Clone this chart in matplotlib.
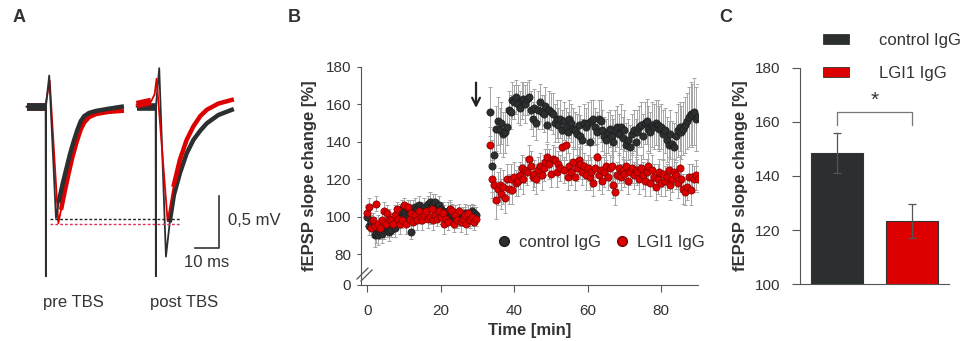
import numpy as np
import matplotlib
matplotlib.use('Agg')
import matplotlib.pyplot as plt
from matplotlib.lines import Line2D
from matplotlib.patches import Patch

plt.rcParams['font.family'] = ['Liberation Sans', 'DejaVu Sans']
TXT = '#333333'
DARK = '#2b2f30'
RED = '#dd0000'

# ---- panel A: example traces (ms, mV relative to baseline) ----
pre_t_k = [0, 7.9, 8.0, 8.1, 9.4, 12.2, 13.5, 15.0, 16.5, 18.0, 19.5, 21.0, 22.5, 24.0, 26.0, 29.0, 34.0, 39.6]
pre_v_k = [0.0, 0.0, -1.63, 0.02, 0.30, -1.07, -0.90, -0.74, -0.60, -0.46, -0.34, -0.23, -0.14, -0.09,
           -0.06, -0.04, -0.02, 0.0]
pre_t_r = [0, 7.9, 8.1, 9.6, 13.2, 14.5, 16.0, 17.5, 19.0, 20.8, 22.5, 24.0, 26.0, 29.0, 34.0, 39.6]
pre_v_r = [0.0, 0.0, 0.05, 0.25, -1.12, -0.97, -0.80, -0.64, -0.49, -0.34, -0.22, -0.15, -0.10, -0.07,
           -0.05, -0.04]
post_t_k = [0, 7.9, 8.0, 8.1, 9.4, 12.2, 13.9, 15.5, 18.0, 20.8, 23.6, 26.5, 29.2, 34.0, 39.6]
post_v_k = [0.0, 0.0, -1.63, 0.02, 0.37, -1.44, -1.09, -0.85, -0.64, -0.45, -0.32, -0.23, -0.16, -0.08, -0.03]
post_t_r = [0, 6.0, 7.5, 8.3, 12.9, 15.5, 18.0, 20.8, 23.6, 26.5, 29.2, 34.0, 39.6]
post_v_r = [0.02, 0.05, 0.12, 0.27, -1.10, -0.75, -0.51, -0.32, -0.19, -0.09, -0.03, 0.03, 0.065]
POST_SHIFT = 45.8  # ms, horizontal offset of the post TBS trace
trough_black = -1.08
trough_red = -1.13

# ---- panel B: time course ----
t_base = np.arange(0, 30, 0.5)
t_post = np.arange(33.5, 90.25, 0.5)

ctrl_base = [100, 95, 97, 94, 90, 91, 90, 92, 91, 93,
             95, 94, 92, 93, 96, 94, 99, 100, 103, 104,
             102, 101, 100, 104, 92, 104, 105, 104, 106, 103,
             104, 105, 103, 107, 108, 106, 107, 108, 105, 106,
             104, 103, 102, 100, 103, 104, 101, 99, 102, 98,
             100, 99, 101, 102, 100, 99, 101, 103, 102, 101]
lgi_base = [102, 105, 94, 98, 95, 107, 96, 94, 98, 103,
            96, 102, 99, 98, 96, 101, 104, 99, 96, 98,
            106, 96, 105, 99, 102, 97, 101, 98, 103, 100,
            98, 101, 103, 99, 100, 104, 98, 101, 99, 103,
            100, 102, 96, 99, 97, 104, 103, 96, 101, 98,
            103, 97, 99, 101, 96, 102, 98, 100, 97, 99]
ctrl_post = [156, 127, 133, 147, 151, 146, 150, 144, 145, 148,
             157, 156, 162, 161, 164, 160, 158, 162, 163, 160,
             163, 164, 157, 152, 158, 150, 157, 161, 156, 155,
             159, 149, 157, 156, 155, 150, 152, 149, 152, 146,
             151, 148, 145, 152, 150, 147, 146, 144, 149, 143,
             141, 150, 148, 150, 140, 151, 152, 148, 145, 152,
             151, 146, 143, 141, 145, 147, 143, 140, 146, 148,
             144, 148, 142, 146, 138, 141, 137, 144, 146, 140,
             145, 148, 149, 143, 150, 151, 147, 145, 149, 148,
             150, 149, 147, 148, 144, 146, 141, 138, 144, 139,
             137, 143, 146, 148, 145, 147, 149, 151, 153, 155,
             154, 156, 152, 153]
lgi_post = [138, 120, 117, 109, 115, 117, 112, 116, 110, 120,
            115, 120, 114, 121, 118, 119, 122, 126, 120, 125,
            124, 131, 127, 121, 123, 120, 125, 127, 122, 126,
            129, 132, 128, 123, 131, 130, 124, 128, 126, 137,
            125, 138, 121, 127, 124, 129, 121, 126, 130, 128,
            124, 127, 122, 126, 121, 124, 118, 126, 132, 122,
            125, 119, 124, 127, 121, 126, 127, 117, 113, 122,
            126, 121, 125, 123, 127, 119, 124, 126, 122, 125,
            124, 120, 126, 122, 119, 124, 127, 118, 125, 121,
            116, 120, 124, 118, 123, 119, 121, 125, 117, 120,
            124, 122, 118, 126, 120, 115, 113, 116, 121, 114,
            121, 120, 122, 120]
ctrl_base_err = [5, 5, 4, 5, 6, 5, 5, 4, 5, 5, 4, 5, 5, 4, 5, 5, 4, 5, 4, 5,
                 5, 4, 5, 5, 4, 5, 5, 4, 5, 4, 4, 5, 4, 4, 5, 4, 5, 4, 4, 5,
                 4, 5, 4, 4, 5, 4, 4, 5, 4, 4, 5, 4, 4, 5, 4, 4, 5, 4, 4, 4]
lgi_base_err = [4, 5, 4, 4, 5, 4, 5, 4, 4, 5, 4, 4, 5, 4, 4, 5, 4, 4, 5, 4,
                4, 5, 4, 4, 5, 4, 4, 5, 4, 4, 5, 4, 4, 5, 4, 4, 5, 4, 4, 5,
                4, 4, 5, 4, 4, 5, 4, 4, 5, 4, 4, 5, 4, 4, 5, 4, 4, 5, 4, 4]
ctrl_post_err = [13, 14, 13, 12, 13, 12, 11, 12, 11, 10,
                 10, 9, 10, 9, 9, 10, 9, 10, 9, 10,
                 9, 9, 10, 9, 10, 9, 10, 10, 9, 10,
                 10, 9, 10, 10, 11, 10, 10, 9, 10, 11,
                 10, 10, 11, 10, 10, 11, 10, 11, 10, 11,
                 11, 10, 10, 11, 10, 11, 10, 10, 11, 10,
                 11, 11, 10, 11, 11, 10, 11, 12, 11, 11,
                 11, 12, 11, 11, 12, 11, 12, 11, 11, 12,
                 12, 11, 12, 12, 11, 12, 12, 11, 12, 12,
                 12, 13, 12, 12, 13, 12, 12, 13, 13, 12,
                 13, 13, 14, 13, 14, 14, 15, 15, 16, 17,
                 17, 18, 17, 18]
lgi_post_err = [10, 10, 9, 10, 9, 9, 8, 9, 8, 8,
                8, 8, 7, 8, 7, 8, 7, 7, 8, 7,
                7, 7, 8, 7, 7, 8, 7, 7, 8, 7,
                7, 7, 8, 7, 7, 7, 8, 7, 7, 7,
                7, 8, 7, 7, 7, 8, 7, 7, 7, 8,
                7, 7, 8, 7, 7, 8, 7, 7, 7, 8,
                7, 7, 8, 7, 7, 7, 8, 7, 7, 7,
                8, 7, 7, 7, 8, 7, 7, 8, 7, 7,
                7, 8, 7, 7, 8, 7, 7, 7, 8, 7,
                7, 8, 7, 7, 7, 8, 7, 7, 8, 7,
                7, 7, 8, 7, 7, 8, 7, 7, 7, 8,
                7, 7, 8, 7]
TBS_TIME = 29.6

# ---- panel C: summary bars ----
groups = ['control IgG', 'LGI1 IgG']
bar_mean = [148.6, 123.4]
bar_sem = [7.4, 6.2]
bar_colors = [DARK, RED]

W, H = 965, 341


def box(l, t, r, b):
    return [l / W, 1 - b / H, (r - l) / W, (b - t) / H]


def trace(ax, t, v, color, n_base, n_rec):
    # thin line for the whole sweep, thick band where the recording is noisy
    ax.plot(t, v, color=color, lw=1.3, solid_joinstyle='round')
    ax.plot(t[:n_base], v[:n_base], color=color, lw=5.5, solid_capstyle='butt')
    ax.plot(t[n_rec:], v[n_rec:], color=color, lw=3.2, solid_joinstyle='round')


fig = plt.figure(figsize=(W / 100, H / 100), dpi=100)

# ===== A =====
axA = fig.add_axes(box(0, 40, 250, 320))
axA.set_xlim(-11.1, 93.0)
axA.set_ylim(-2.05, 0.641)
axA.axis('off')
trace(axA, pre_t_r, pre_v_r, RED, 2, 5)
trace(axA, pre_t_k, pre_v_k, DARK, 2, 6)
trace(axA, list(np.array(post_t_k) + POST_SHIFT), post_v_k, DARK, 2, 6)
trace(axA, list(np.array(post_t_r) + POST_SHIFT), post_v_r, RED, 2, 5)
axA.plot([9.7, 63.9], [trough_black, trough_black], ls=(0, (2, 1.5)), color='#222222', lw=1)
axA.plot([9.7, 63.9], [trough_red, trough_red], ls=(0, (2, 1.5)), color='#e0305a', lw=1)
axA.plot([70.1, 80.1, 80.1], [-1.354, -1.354, -0.859], color='#333333', lw=1.2)
axA.text(84.0, -1.09, '0,5 mV', fontsize=12, color=TXT, va='center', ha='left')
axA.text(74.8, -1.50, '10 ms', fontsize=12, color=TXT, va='center', ha='center')
fig.text(73 / W, 1 - 303 / H, 'pre TBS', fontsize=12, color=TXT, ha='center', va='center')
fig.text(184 / W, 1 - 303 / H, 'post TBS', fontsize=12, color=TXT, ha='center', va='center')

# ===== B =====
axB = fig.add_axes(box(361, 66.7, 698, 285))
for tt, vv, ee in [(t_base, ctrl_base, ctrl_base_err), (t_post, ctrl_post, ctrl_post_err),
                   (t_base, lgi_base, lgi_base_err), (t_post, lgi_post, lgi_post_err)]:
    axB.errorbar(tt, vv, yerr=ee, fmt='none', ecolor='#a5a5a5',
                 elinewidth=0.7, capsize=1.6, capthick=0.7, zorder=1)
for tt, vv in [(t_base, ctrl_base), (t_post, ctrl_post)]:
    axB.plot(tt, vv, 'o', ms=5.2, mfc=DARK, mec='#1a1a1a', mew=0.5, zorder=3)
for tt, vv in [(t_base, lgi_base), (t_post, lgi_post)]:
    axB.plot(tt, vv, 'o', ms=5.2, mfc=RED, mec='#7a0000', mew=0.5, zorder=4)
axB.set_xlim(-1.7, 90)
axB.set_ylim(63.6, 180)
axB.set_xticks([0, 20, 40, 60, 80])
axB.set_yticks([63.6, 80, 100, 120, 140, 160, 180])
axB.set_yticklabels(['0', '80', '100', '120', '140', '160', '180'])
for s in ['top', 'right']:
    axB.spines[s].set_visible(False)
for s in ['left', 'bottom']:
    axB.spines[s].set_color('#555555')
axB.tick_params(labelsize=11, colors='#555555', labelcolor=TXT)
axB.tick_params(axis='x', length=5, pad=9)
axB.tick_params(axis='y', length=3, pad=4)
axB.set_xlabel('Time [min]', fontsize=12, fontweight='bold', color=TXT, labelpad=3.5)
axB.set_ylabel('fEPSP slope change [%]', fontsize=12, fontweight='bold', color=TXT, labelpad=6)
axB.annotate('', xy=(TBS_TIME, 156.5), xytext=(TBS_TIME, 173),
             arrowprops=dict(arrowstyle='->', lw=1.6, color='#222222', mutation_scale=14))
for dx in [0, 4]:
    fig.add_artist(Line2D([(357 + dx) / W, (368 + dx) / W], [1 - (279 + dx * 0.5) / H, 1 - (268 + dx * 0.5) / H],
                          color='#555555', lw=0.9))
legB = [Line2D([], [], marker='o', ls='', ms=7, mfc=DARK, mec='#1a1a1a', label='control IgG'),
        Line2D([], [], marker='o', ls='', ms=7, mfc=RED, mec='#7a0000', label='LGI1 IgG')]
axB.legend(handles=legB, loc='center left', bbox_to_anchor=(0.399, 0.194), ncol=2, frameon=False,
           fontsize=12, handlelength=1.0, handletextpad=0.4, columnspacing=0.76,
           borderpad=0, borderaxespad=0, labelcolor=TXT)

# ===== C =====
axC = fig.add_axes(box(800, 67.7, 949, 284.3))
axC.bar([0, 1], bar_mean, width=0.7, color=bar_colors, edgecolor='#333333', lw=0.8, zorder=2)
axC.errorbar([0, 1], bar_mean, yerr=bar_sem, fmt='none', ecolor='#555555',
             elinewidth=0.9, capsize=3, capthick=0.9, zorder=3)
axC.plot([0, 0, 1, 1], [158.8, 163.7, 163.7, 158.8], color='#777777', lw=0.9)
axC.text(0.5, 168.1, '*', fontsize=15, color=TXT, ha='center', va='center')
axC.set_xlim(-0.495, 1.5)
axC.set_ylim(100, 180)
axC.set_yticks([100, 120, 140, 160, 180])
axC.set_xticks([])
for s in ['top', 'right']:
    axC.spines[s].set_visible(False)
for s in ['left', 'bottom']:
    axC.spines[s].set_color('#555555')
axC.tick_params(labelsize=11, colors='#555555', labelcolor=TXT, length=5.5, pad=8.5)
axC.set_ylabel('fEPSP slope change [%]', fontsize=12, fontweight='bold', color=TXT, labelpad=5)
legC = [Patch(facecolor=c, edgecolor='#333333', lw=0.6, label=g) for g, c in zip(groups, bar_colors)]
fig.legend(handles=legC, loc='upper left', bbox_to_anchor=(822.7 / W, 1 - 33 / H), frameon=False,
           fontsize=12, handlelength=1.6, handleheight=0.55, handletextpad=1.75, labelspacing=1.1,
           borderpad=0, borderaxespad=0, labelcolor=TXT)

# panel letters
for x, lab in [(19, 'A'), (294, 'B'), (726, 'C')]:
    fig.text(x / W, 1 - 18 / H, lab, fontsize=13, fontweight='bold', color=TXT, ha='center', va='center')

fig.savefig('out.png', dpi=100)
